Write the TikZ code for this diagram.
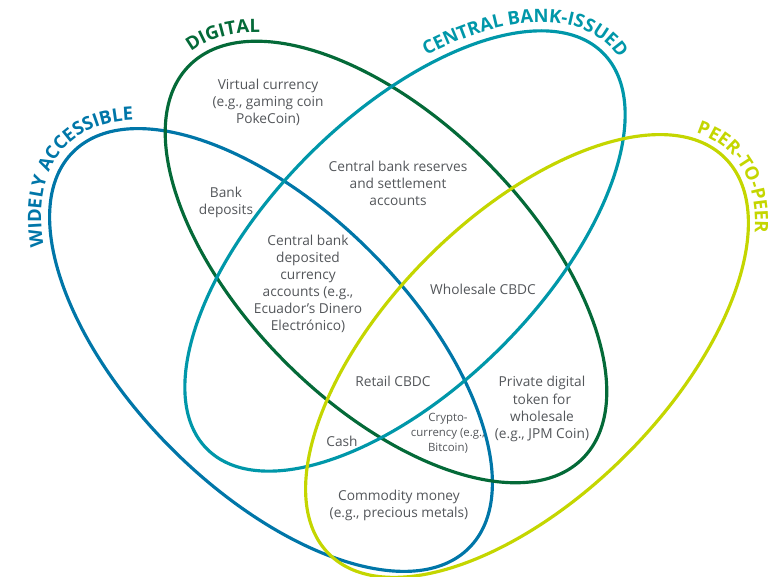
\documentclass[tikz,border=0pt]{standalone}
\usepackage{fontspec}
\setmainfont{Open Sans}
\usepackage{tikz}
\usetikzlibrary{decorations.text}
\definecolor{wablue}{HTML}{0076A8}
\definecolor{dggreen}{HTML}{046A38}
\definecolor{cbteal}{HTML}{0097A9}
\definecolor{pplime}{HTML}{C4D600}
\definecolor{txtgray}{HTML}{53565A}

\begin{document}
\begin{tikzpicture}[x=0.02cm,y=0.02cm]

\tikzstyle{myset} = [line width=1.8pt]
\tikzstyle{mytext} = [font=\fontsize{7.8}{9.7}\selectfont, text=txtgray,
align=center, inner sep=0pt]
\tikzstyle{mysmall} = [font=\fontsize{6.5}{8.5}\selectfont, text=txtgray,
align=center, inner sep=0pt]
\tikzstyle{mytitle} = [decorate, decoration={text along path, text align=left}]

\useasboundingbox (0,0) rectangle (768,577);

\coordinate (wa) at (271,227);
\coordinate (dg) at (386,315);
\coordinate (cb) at (405,326);
\coordinate (pp) at (527,221);

% the four sets
\draw[myset, wablue, shift={(wa)}, rotate=-45] (0,0) ellipse [x radius=280, y radius=140];
\draw[myset, dggreen, shift={(dg)}, rotate=-45] (0,0) ellipse [x radius=278, y radius=142];
\draw[myset, cbteal, shift={(cb)}, rotate=45] (0,0) ellipse [x radius=280, y radius=136];
\draw[myset, pplime, shift={(pp)}, rotate=45] (0,0) ellipse [x radius=280, y radius=140];

% set names
\path[mytitle, shift={(wa)}, rotate=-45,
decoration={text={|\fontsize{10.5}{12}\selectfont\bfseries\color{wablue}|WIDELY ACCESSIBLE}}]
(216:289 and 149) arc[start angle=216, end angle=110, x radius=289, y radius=149];
\path[mytitle, shift={(dg)}, rotate=-45,
decoration={text={|\fontsize{10.5}{12}\selectfont\bfseries\color{dggreen}|DIGITAL}}]
(176:287 and 151) arc[start angle=176, end angle=100, x radius=287, y radius=151];
\path[mytitle, shift={(cb)}, rotate=45,
decoration={text={|\fontsize{10.5}{12}\selectfont\bfseries\color{cbteal}|CENTRAL BANK-ISSUED}}]
(58:289 and 145) arc[start angle=58, end angle=-50, x radius=289, y radius=145];
\path[mytitle, shift={(pp)}, rotate=45,
decoration={text={|\fontsize{10.5}{12}\selectfont\bfseries\color{pplime}|PEER-TO-PEER}}]
(15:287 and 147) arc[start angle=15, end angle=-80, x radius=287, y radius=147];

\node[mytext] (virtual) at (268,475) {Virtual currency\\(e.g., gaming coin\\PokeCoin)};
\node[mytext] (bank) at (226,375) {Bank\\deposits};
\node[mytext] (reserves) at (398,394) {Central bank reserves\\and settlement\\accounts};
\node[mytext] (deposited) at (308,293) {Central bank\\deposited\\currency\\accounts (e.g.,\\Ecuador's Dinero\\Electrónico)};
\node[mytext] (wholesale) at (483,288) {Wholesale CBDC};
\node[mytext] (retail) at (393,196) {Retail CBDC};
\node[mytext] (private) at (542,168) {Private digital\\token for\\wholesale\\(e.g., JPM Coin)};
\node[mytext] (cash) at (342,136) {Cash};
\node[mysmall] (crypto) at (448,144) {Crypto-\\currency (e.g.,\\Bitcoin)};
\node[mytext] (commodity) at (399,72) {Commodity money\\(e.g., precious metals)};

\end{tikzpicture}
\end{document}
